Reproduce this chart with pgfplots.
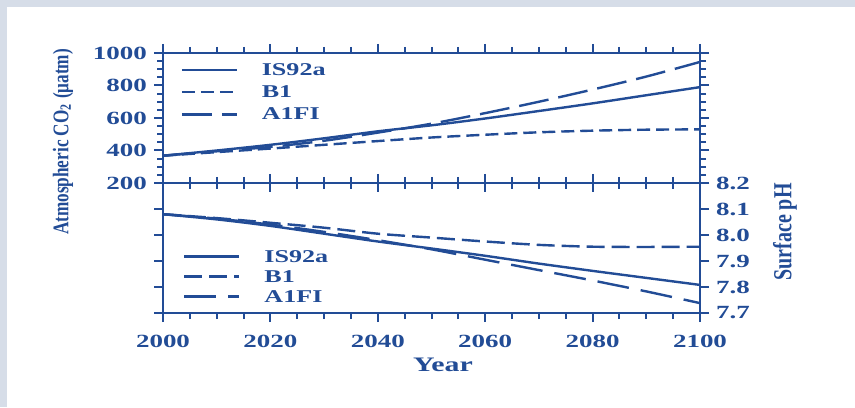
\documentclass[border=0pt]{standalone}
\usepackage{fontspec}
\setmainfont[FakeStretch=1.45]{Liberation Serif}
\newfontfamily\plainserif{Liberation Serif}
\usepackage{pgfplots}
\pgfplotsset{compat=1.18}
\definecolor{navy}{RGB}{34,76,150}
\definecolor{bgstrip}{RGB}{214,221,232}
\begin{document}
\begin{tikzpicture}
\fill[white] (0,0) rectangle (427.5pt,203.5pt);
\fill[bgstrip] (0,200pt) rectangle (427.5pt,203.5pt);
\fill[bgstrip] (0,0) rectangle (3.5pt,203.5pt);
\pgfplotsset{
 common/.style={
  scale only axis, width=268.5pt, height=65pt,
  xmin=2000, xmax=2100,
  axis line style={navy, line width=1.4pt},
  every tick/.style={navy, line width=1pt},
  major tick length=4.5pt, minor tick length=3pt,
  tick align=outside,
  xtick={2000,2020,...,2100}, minor x tick num=3,
  /pgf/number format/assume math mode=true,
  /pgf/number format/1000 sep={},
  tick label style={font=\bfseries\fontsize{9.3}{10}\selectfont, text=navy},
  legend style={draw=none, fill=none, inner sep=0pt,
     font=\bfseries\fontsize{9}{10}\selectfont, text=navy,
     nodes={inner xsep=1pt, inner ysep=1pt, text height=6.5pt, text depth=1pt}},
  legend cell align=left,
  legend image code/.code={\draw[##1] (0pt,0pt) -- (27.5pt,0pt); \path[draw=none,fill=none] (27.5pt,0pt) -- (39pt,0pt);},
 }
}
\begin{axis}[common, at={(81.5pt,112pt)}, anchor=south west,
  ymin=200, ymax=1000, ytick={200,400,...,1000}, minor y tick num=3,
  xticklabels={}, yticklabel pos=left,
  legend style={at={(0.032,0.945)}, anchor=north west, row sep=1.6pt}]
\addplot[navy, line width=1.2pt, smooth] coordinates {(2000,368) (2010,400) (2020,435) (2030,475) (2040,518) (2050,555) (2060,597) (2070,643) (2080,690) (2090,740) (2100,790)};
\addlegendentry{IS92a}
\addplot[navy, line width=1.2pt, smooth, dash pattern=on 6.5pt off 3pt] coordinates {(2000,368) (2010,390) (2020,412) (2030,435) (2040,458) (2050,480) (2060,497) (2070,512) (2080,522) (2090,528) (2100,530)};
\addlegendentry{B1}
\addplot[navy, line width=1.2pt, smooth, dash pattern=on 15pt off 5pt] coordinates {(2000,368) (2010,395) (2020,422) (2030,460) (2040,510) (2050,565) (2060,630) (2070,700) (2080,775) (2090,855) (2100,945)};
\addlegendentry{A1FI}
\end{axis}
\begin{axis}[common, at={(81.5pt,47pt)}, anchor=south west,
  ymin=7.7, ymax=8.2, ytick={7.7,7.8,...,8.2}, yticklabel pos=right,
  yticklabel style={/pgf/number format/.cd, fixed, fixed zerofill, precision=1},
  xticklabel style={yshift=-3pt},
  legend style={at={(0.037,0.51)}, anchor=north west, row sep=0.5pt}]
\addplot[navy, line width=1.2pt, smooth] coordinates {(2000,8.08) (2010,8.06) (2020,8.035) (2030,8.005) (2040,7.975) (2050,7.948) (2060,7.92) (2070,7.89) (2080,7.862) (2090,7.835) (2100,7.808)};
\addlegendentry{IS92a}
\addplot[navy, line width=1.2pt, smooth, dash pattern=on 9pt off 3.5pt] coordinates {(2000,8.08) (2010,8.065) (2020,8.047) (2030,8.028) (2040,8.005) (2050,7.99) (2060,7.975) (2070,7.962) (2080,7.955) (2090,7.954) (2100,7.955)};
\addlegendentry{B1}
\addplot[navy, line width=1.2pt, smooth, dash pattern=on 16pt off 6pt] coordinates {(2000,8.08) (2010,8.063) (2020,8.04) (2030,8.012) (2040,7.98) (2050,7.945) (2060,7.905) (2070,7.865) (2080,7.825) (2090,7.783) (2100,7.738)};
\addlegendentry{A1FI}
\end{axis}
\node[rotate=90, text=navy, font=\plainserif\bfseries\fontsize{8.6}{10}\selectfont] at (31.5pt,132.5pt) {\scalebox{1}[1.3]{Atmospheric CO\textsubscript{2} (μatm)}};
\node[rotate=90, text=navy, font=\plainserif\bfseries\fontsize{10}{12}\selectfont] at (392.5pt,87.5pt) {\scalebox{1}[1.3]{Surface pH}};
\node[text=navy, font=\bfseries\fontsize{10.3}{12}\selectfont] at (221.5pt,21pt) {Year};
\pgfresetboundingbox
\path (0,0) rectangle (427.5pt,203.5pt);
\end{tikzpicture}
\end{document}
